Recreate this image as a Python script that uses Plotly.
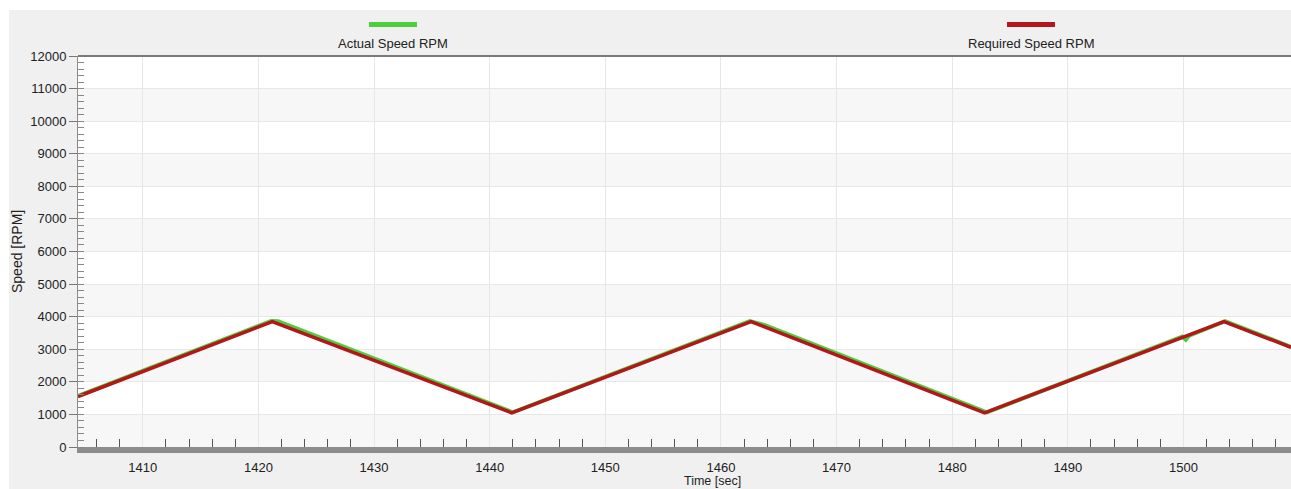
import plotly.graph_objects as go

# ---- data ----
req_time = [1404.4, 1421.2, 1441.9, 1462.6, 1482.8, 1503.5, 1509.3]
req_rpm = [1550, 3850, 1050, 3850, 1050, 3850, 3060]

act_time = [1404.4, 1421.1, 1421.7, 1442.0, 1462.5, 1463.2, 1463.8,
            1483.0, 1499.9, 1500.2, 1500.5, 1503.6, 1509.3]
act_rpm = [1565, 3865, 3860, 1065, 3865, 3790, 3740,
           1065, 3390, 3290, 3420, 3865, 3075]

series_names = ["Actual Speed RPM", "Required Speed RPM"]
series_colors = ["#4ccf3c", "#b3161b"]
y_ticks = list(range(0, 12001, 1000))
x_range = [1404.4, 1509.3]

W, H = 1291, 489
ML, MR, MT, MB = 78, 0, 56, 42
PW, PH = W - ML - MR, H - MT - MB


def px(x):
    return (x - ML) / PW


def py(y):
    return (H - MB - y) / PH


fig = go.Figure()
fig.add_trace(go.Scatter(x=act_time, y=act_rpm, mode="lines",
                         line=dict(color=series_colors[0], width=4),
                         name=series_names[0], showlegend=False))
fig.add_trace(go.Scatter(x=req_time, y=req_rpm, mode="lines",
                         line=dict(color=series_colors[1], width=3.5),
                         name=series_names[1], showlegend=False))

shapes = []
# white strips (screenshot border)
shapes.append(dict(type="rect", xref="paper", yref="paper", x0=px(0), x1=px(W),
                   y0=py(10), y1=py(0), fillcolor="white", line_width=0, layer="below"))
shapes.append(dict(type="rect", xref="paper", yref="paper", x0=px(0), x1=px(9),
                   y0=py(H), y1=py(0), fillcolor="white", line_width=0, layer="below"))
# alternating bands
for i in range(0, len(y_ticks) - 1, 2):
    shapes.append(dict(type="rect", xref="paper", yref="y", x0=0, x1=1,
                       y0=y_ticks[i], y1=y_ticks[i + 1], fillcolor="#f7f7f7",
                       line_width=0, layer="below"))
# top border
shapes.append(dict(type="line", xref="paper", yref="paper", x0=0, x1=1, y0=1, y1=1,
                   line=dict(color="#7a7a7a", width=2)))

annotations = []
leg_centers = [393, 1031]
for name, col, cx in zip(series_names, series_colors, leg_centers):
    shapes.append(dict(type="line", xref="paper", yref="paper",
                       x0=px(cx - 24), x1=px(cx + 24), y0=py(24.5), y1=py(24.5),
                       line=dict(color=col, width=5)))
    annotations.append(dict(text=name, xref="paper", yref="paper", x=px(cx), y=py(44),
                            showarrow=False, xanchor="center", yanchor="middle",
                            font=dict(size=13, color="#222")))

annotations.append(dict(text="Speed [RPM]", xref="paper", yref="paper", x=px(17), y=py(252),
                        textangle=-90, showarrow=False, xanchor="center", yanchor="middle",
                        font=dict(size=14, color="#222")))
annotations.append(dict(text="Time [sec]", xref="paper", yref="paper", x=px(712), y=py(481),
                        showarrow=False, xanchor="center", yanchor="middle",
                        font=dict(size=12.5, color="#222")))

fig.update_layout(
    width=W, height=H,
    margin=dict(l=ML, r=MR, t=MT, b=MB, pad=0),
    paper_bgcolor="#f0f0f0", plot_bgcolor="white",
    font=dict(family="Liberation Sans, Arial, sans-serif", size=13, color="#222"),
    shapes=shapes, annotations=annotations, showlegend=False,
    xaxis=dict(range=x_range, dtick=10, tick0=1400, showgrid=True, gridcolor="#e6e6e6",
               gridwidth=1, showline=True, linecolor="#8c8c8c", linewidth=6,
               ticks="", zeroline=False, ticklabelstandoff=3,
               minor=dict(dtick=2, tick0=1400, ticks="inside", ticklen=8,
                          tickcolor="#555", tickwidth=1, showgrid=False),
               tickfont=dict(size=13, color="#222")),
    yaxis=dict(range=[0, 12000], dtick=1000, tick0=0, tickformat="d",
               showgrid=True, gridcolor="#e8e8e8", gridwidth=1,
               showline=True, linecolor="#8c8c8c", linewidth=1,
               ticks="outside", ticklen=8, tickcolor="#777", zeroline=False,
               minor=dict(dtick=200, ticks="inside", ticklen=6, tickcolor="#888",
                          tickwidth=1, showgrid=False),
               tickfont=dict(size=13, color="#222")),
)

fig.write_html("out.html", config={"displayModeBar": False})
